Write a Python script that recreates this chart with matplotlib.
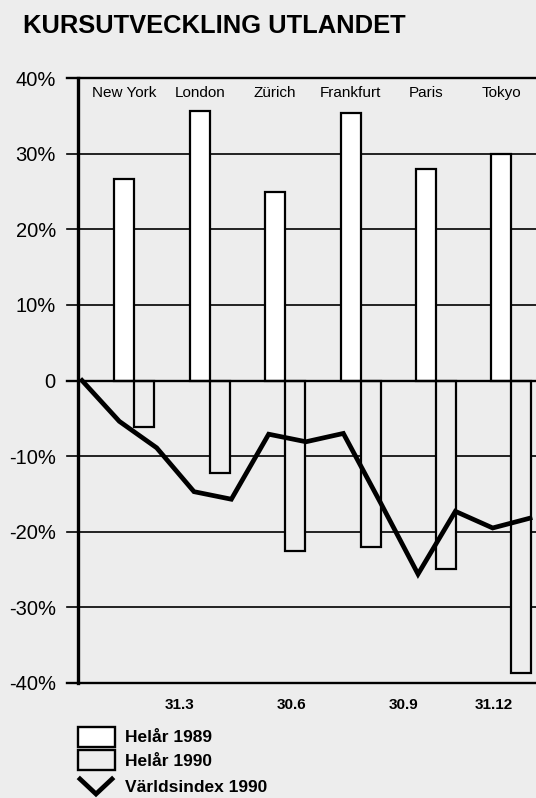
import numpy as np
import matplotlib
matplotlib.use('Agg')
import matplotlib.pyplot as plt
from matplotlib.lines import Line2D
from matplotlib.patches import Rectangle

plt.rcParams['font.family'] = ['Liberation Sans', 'DejaVu Sans']

# Börser: förändring helår 1989 och 1990 (procent)
cities = ['New York', 'London', 'Zürich', 'Frankfurt', 'Paris', 'Tokyo']
helar_1989 = [26.7, 35.6, 24.9, 35.4, 28.0, 30.0]
helar_1990 = [-6.1, -12.2, -22.5, -22.0, -24.9, -38.7]

# Världsindex 1990, månadsvis från 1 jan till 31 dec
varldsindex = [0, -5.4, -8.9, -14.7, -15.7, -7.1, -8.1, -7.0, -16.2,
               -25.6, -17.3, -19.5, -18.2]

date_labels = ['31.3', '30.6', '30.9', '31.12']
y_ticks = [40, 30, 20, 10, 0, -10, -20, -30, -40]
y_labels = ['40%', '30%', '20%', '10%', '0', '-10%', '-20%', '-30%', '-40%']

bg = '#ededed'
W, H = 536, 798

fig = plt.figure(figsize=(W / 100, H / 100), dpi=100, facecolor=bg)
ax = fig.add_axes([78 / W, 115 / H, 458 / W, 605 / H])
ax.set_facecolor(bg)
ax.set_xlim(-0.107, 12.16)
ax.set_ylim(-40, 40)

# stödlinjer, dras ut lite till vänster om axeln
for y in y_ticks:
    lw = 1.7 if y in (40, -40, 0) else 1.2
    ax.axhline(y, xmin=-0.024, xmax=1, color='black', lw=lw,
               clip_on=False, zorder=1 if y != 0 else 3)

# staplar per börs
bar_w = 0.536
centers = 1.4 + 2.02 * np.arange(len(cities))
ax.bar(centers - bar_w / 2, helar_1989, width=bar_w, facecolor='white',
       edgecolor='black', linewidth=1.6, zorder=2)
ax.bar(centers + bar_w / 2, helar_1990, width=bar_w, facecolor=bg,
       edgecolor='black', linewidth=1.6, zorder=2)

for x, name in zip(centers - bar_w / 2, cities):
    ax.text(x, 38.0, name, ha='center', va='center', fontsize=11)

# världsindex
months = np.arange(len(varldsindex))
ax.plot(months, varldsindex, color='black', lw=3.4,
        solid_joinstyle='miter', zorder=5)

for s in ['top', 'right', 'bottom']:
    ax.spines[s].set_visible(False)
ax.spines['left'].set_linewidth(2.4)
ax.spines['left'].set_zorder(4)

ax.set_yticks(y_ticks)
ax.set_yticklabels(y_labels, fontsize=14.5)
ax.tick_params(axis='y', length=0, pad=16)

ax.set_xticks([3, 6, 9, 11.55])
ax.set_xticklabels(date_labels, fontsize=11, fontweight='bold', ha='right')
ax.tick_params(axis='x', length=0, pad=11)

fig.text(23 / W, 1 - 33 / H, 'KURSUTVECKLING UTLANDET', fontsize=18.4,
         fontweight='bold', va='baseline', ha='left')

# teckenförklaring
def px(x, y):
    return x / W, 1 - y / H

for (top, face) in [(727, 'white'), (750, bg)]:
    x0, y0 = px(78, top + 20)
    fig.patches.append(Rectangle((x0, y0), 37 / W, 20 / H, facecolor=face,
                                 edgecolor='black', lw=1.7,
                                 transform=fig.transFigure))

vx, vy = zip(px(80, 779), px(96, 794), px(112, 779))
fig.lines.append(Line2D(vx, vy, color='black', lw=3.4,
                        solid_joinstyle='miter', transform=fig.transFigure))

for yc, txt in [(737, 'Helår 1989'), (761, 'Helår 1990'), (787, 'Världsindex 1990')]:
    fig.text(125 / W, 1 - yc / H, txt, fontsize=12.5, fontweight='bold',
             va='center', ha='left')

fig.savefig('out.png', dpi=100, facecolor=bg)
